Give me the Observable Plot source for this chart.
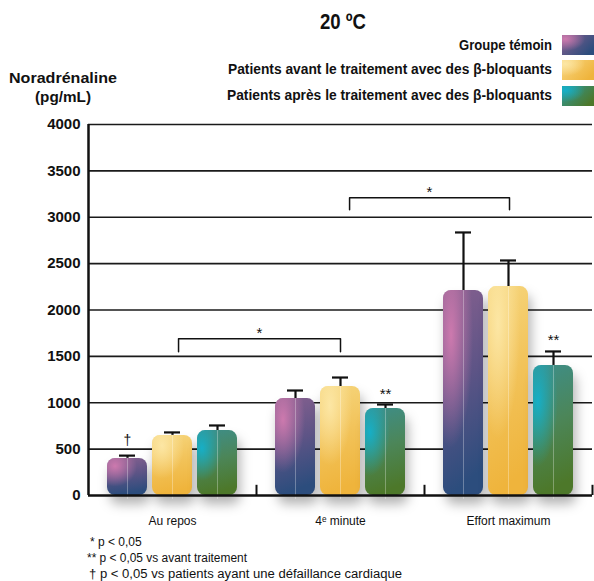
<!DOCTYPE html>
<html><head><meta charset="utf-8">
<script src="https://cdn.jsdelivr.net/npm/d3@7"></script>
<script src="https://cdn.jsdelivr.net/npm/@observablehq/plot@0.6"></script>
<style>
body{margin:0;background:#fff;}
#chart{width:594px;height:581px;}
</style></head><body>
<div id="chart"></div>
<script>
// ---- data ----
const groups = ["Au repos", "4ᵉ minute", "Effort maximum"];
const seriesNames = [
  "Groupe témoin",
  "Patients avant le traitement avec des β-bloquants",
  "Patients après le traitement avec des β-bloquants"
];
const temoin = [400, 1045, 2210];
const avant = [648, 1175, 2253];
const apres = [700, 938, 1402];
const temoinErr = [430, 1132, 2836];
const avantErr = [680, 1272, 2534];
const apresErr = [755, 981, 1553];
const yTicks = [0, 500, 1000, 1500, 2000, 2500, 3000, 3500, 4000];
const daggerMarks = [{group: 0, series: 0, text: "†"}];
const starMarks = [
  {group: 1, series: 2, text: "**"},
  {group: 2, series: 2, text: "**"}
];
const brackets = [
  {from: 0, to: 1, top: 1690, leg: 1550, text: "*"},
  {from: 1, to: 2, top: 3210, leg: 3080, text: "*"}
];
const footnotes = [
  "* p < 0,05",
  "** p < 0,05 vs avant traitement",
  "† p < 0,05 vs patients ayant une défaillance cardiaque"
];
const title = "20 ºC";
const yLabel = ["Noradrénaline", "(pg/mL)"];

// ---- build ----
const FONT = '"Liberation Sans", Arial, sans-serif';
const values = [temoin, avant, apres];
const errs = [temoinErr, avantErr, apresErr];
const rows = [];
groups.forEach((g, i) => seriesNames.forEach((s, j) => rows.push({g: i, s: j, v: values[j][i], e: errs[j][i]})));

const STEP = 45 / 168, HALF = 20 / 168, CAP = 8 / 168;
const cx = d => d.g + (d.s - 1) * STEP;

const bracketPts = [];
brackets.forEach((b, k) => {
  const x1 = b.from + (k === 0 ? 0.036 : 0.054), x2 = b.to + (k === 0 ? 0 : 0.006);
  bracketPts.push({k, x: x1, y: b.leg}, {k, x: x1, y: b.top}, {k, x: x2, y: b.top}, {k, x: x2, y: b.leg});
  b.mx = (x1 + x2) / 2;
});

const marks = [
  Plot.ruleY(yTicks.slice(1), {stroke: "#1a1a1a", strokeWidth: 1.7}),
  Plot.ruleX(rows, {x: cx, y1: d => d.v, y2: d => d.e, strokeWidth: 2.2, stroke: "#111"}),
  Plot.ruleY(rows, {y: d => d.e, x1: d => cx(d) - CAP, x2: d => cx(d) + CAP, strokeWidth: 2.2, stroke: "#111"})
];
for (let j = 0; j < 3; j++) {
  const data = rows.filter(d => d.s === j);
  marks.push(Plot.rectY(data, {x1: d => cx(d) - HALF, x2: d => cx(d) + HALF, y1: 0, y2: d => d.v, fill: `url(#lin${j})`, rx: 8, ariaDescription: "barbase"}));
  marks.push(Plot.rectY(data, {x1: d => cx(d) - HALF, x2: d => cx(d) + HALF, y1: 0, y2: d => d.v, fill: `url(#rad${j})`, rx: 8}));
  marks.push(Plot.ruleX(data, {x: cx, y1: 0, y2: d => d.v, stroke: "#fff", strokeOpacity: 0.3, strokeWidth: 1, insetTop: 4}));
}
marks.push(
  Plot.ruleY([0], {strokeWidth: 2.5, stroke: "#111"}),
  Plot.ruleX([-0.5], {y1: 0, y2: 4000, strokeWidth: 2.5, stroke: "#111"}),
  Plot.ruleX([0.5, 1.5, 2.5], {y1: 0, y2: 110, strokeWidth: 2, stroke: "#111"}),
  Plot.text(yTicks, {y: d => d, frameAnchor: "left", dx: -8, textAnchor: "end", text: d => String(d), fontWeight: "bold", fontSize: 15, fontFamily: FONT}),
  Plot.text(groups, {x: (d, i) => i, y: 0, dy: 26, text: d => d, fontSize: 12, fontFamily: FONT}),
  Plot.text(daggerMarks, {x: d => d.group + (d.series - 1) * STEP, y: d => errs[d.series][d.group], dy: -11, lineAnchor: "bottom", text: "text", fontSize: 14, fontFamily: FONT}),
  Plot.text(starMarks, {x: d => d.group + (d.series - 1) * STEP, y: d => errs[d.series][d.group], dy: -6, lineAnchor: "bottom", text: "text", fontSize: 15, fontFamily: FONT}),
  Plot.line(bracketPts, {x: "x", y: "y", z: "k", stroke: "#111", strokeWidth: 1.5}),
  Plot.text(brackets, {x: d => d.mx, y: "top", dy: -1, lineAnchor: "bottom", text: "text", fontSize: 15, fontFamily: FONT})
);

const chart = Plot.plot({
  width: 594, height: 581,
  marginLeft: 88, marginRight: 2, marginTop: 124, marginBottom: 86,
  x: {type: "linear", domain: [-0.5, 2.5], axis: null},
  y: {domain: [0, 4000], axis: null},
  style: {fontFamily: FONT, color: "#111", background: "transparent"},
  marks
});

const svg = d3.select(chart);
const defs = svg.insert("defs", ":first-child");
const lin = [
  [["0", "#86608f"], ["0.5", "#5d5486"], ["1", "#2c4d7d"]],
  [["0", "#f6d67e"], ["0.5", "#f2c35a"], ["1", "#efb43c"]],
  [["0", "#3d8e8a"], ["0.5", "#4c8659"], ["1", "#4d782a"]]
];
const rad = [
  {c: "#d77db2", cx: 0.2, cy: 0.22, r: 0.55},
  {c: "#fde9aa", cx: 0.25, cy: 0.18, r: 0.55},
  {c: "#11b3d0", cx: 0.12, cy: 0.28, r: 0.5}
];
const swLin = [["#86608f", "#2c4d7d"], ["#f8d681", "#efb43c"], ["#2f9a9a", "#4d782a"]];
lin.forEach((st, j) => {
  const g = defs.append("linearGradient").attr("id", "lin" + j).attr("x1", 0).attr("y1", 0).attr("x2", 0.15).attr("y2", 1);
  st.forEach(([o, c]) => g.append("stop").attr("offset", o).attr("stop-color", c));
  const r = defs.append("radialGradient").attr("id", "rad" + j).attr("cx", rad[j].cx).attr("cy", rad[j].cy).attr("r", rad[j].r);
  r.append("stop").attr("offset", 0).attr("stop-color", rad[j].c).attr("stop-opacity", 0.9);
  r.append("stop").attr("offset", 1).attr("stop-color", rad[j].c).attr("stop-opacity", 0);
  const s = defs.append("linearGradient").attr("id", "swl" + j).attr("x1", 0).attr("y1", 0).attr("x2", 1).attr("y2", 0.6);
  s.append("stop").attr("offset", 0).attr("stop-color", swLin[j][0]);
  s.append("stop").attr("offset", 1).attr("stop-color", swLin[j][1]);
  const sr = defs.append("radialGradient").attr("id", "swr" + j).attr("cx", 0.1).attr("cy", 0.2).attr("r", 0.6);
  sr.append("stop").attr("offset", 0).attr("stop-color", rad[j].c).attr("stop-opacity", 0.9);
  sr.append("stop").attr("offset", 1).attr("stop-color", rad[j].c).attr("stop-opacity", 0);
});
svg.selectAll('g[aria-description="barbase"]').style("filter", "drop-shadow(3px 9px 6px rgba(0,0,0,0.3))");

// ---- title, axis label, legend, footnotes ----
const deco = svg.append("g").attr("font-family", FONT).attr("fill", "#111");
function txt(s, x, y, opts) {
  const t = deco.append("text").attr("x", x).attr("y", y).text(s)
    .attr("font-size", opts.size).attr("font-weight", opts.bold ? "bold" : null)
    .attr("text-anchor", opts.anchor || "start");
  if (opts.len) t.attr("textLength", opts.len).attr("lengthAdjust", "spacingAndGlyphs");
  return t;
}
txt(title, 343, 29, {size: 22.5, bold: true, anchor: "middle", len: 46});
txt(yLabel[0], 63, 83, {size: 15.5, bold: true, anchor: "middle", len: 108});
txt(yLabel[1], 63, 102, {size: 15.5, bold: true, anchor: "middle", len: 56});
const legBase = [50, 74, 100];
const legLen = [93, 324, 325];
const swTop = [35, 60, 86];
seriesNames.forEach((s, j) => {
  txt(s, 552, legBase[j], {size: 14.5, bold: true, anchor: "end", len: legLen[j]});
  deco.append("rect").attr("x", 562).attr("y", swTop[j]).attr("width", 33).attr("height", 20).attr("fill", `url(#swl${j})`);
  deco.append("rect").attr("x", 562).attr("y", swTop[j]).attr("width", 33).attr("height", 20).attr("fill", `url(#swr${j})`);
});
const footX = [90, 87, 89];
const footLen = [null, 160, 313];
footnotes.forEach((f, i) => txt(f, footX[i], 546 + i * 16, {size: 12, len: footLen[i]}));

document.getElementById("chart").appendChild(chart);
</script>
</body></html>
